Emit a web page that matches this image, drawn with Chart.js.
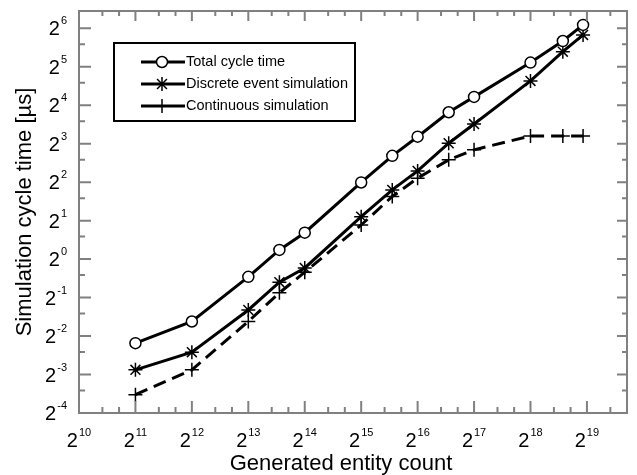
<!DOCTYPE html>
<html>
<head>
<meta charset="utf-8">
<script src="https://cdn.jsdelivr.net/npm/chart.js"></script>
<style>
  html, body { margin: 0; padding: 0; background: #fff; }
  #wrap { width: 637px; height: 475px; }
</style>
</head>
<body>
<div id="wrap"><canvas id="cycleChart" width="637" height="475"></canvas></div>
<script>
// values (x = entity count, y = cycle time in µs)
const entityCounts = [2048, 4096, 8192, 12000, 16384, 32768, 48000, 65536, 96000, 131072, 262144, 390000, 500000];
const totalCycle = [0.220, 0.325, 0.727, 1.18, 1.61, 3.98, 6.43, 9.08, 14.1, 18.6, 34.5, 50.9, 68];
const discreteEvent = [0.136, 0.187, 0.40, 0.66, 0.853, 2.15, 3.48, 4.9, 8.07, 11.4, 24.8, 42, 56.8];
const continuousSim = [0.087, 0.136, 0.325, 0.545, 0.79, 1.85, 3.09, 4.3, 5.98, 7.16, 9.2, 9.2, 9.2];

const seriesNames = ["Total cycle time", "Discrete event simulation", "Continuous simulation"];
const xExponents = [10, 11, 12, 13, 14, 15, 16, 17, 18, 19];
const yExponents = [-4, -3, -2, -1, 0, 1, 2, 3, 4, 5, 6];

const FONT = "'Liberation Sans', Arial, sans-serif";
const AXIS_GREY = "#808080";

function pts(ys) {
  return entityCounts.map((x, i) => ({ x: x, y: ys[i] }));
}

// label "2^n" drawn as base + raised exponent
function powLabel(ctx, n, x, y, align) {
  const base = "2", exp = String(n);
  ctx.font = "20px " + FONT;
  const wb = ctx.measureText(base).width;
  ctx.font = "11px " + FONT;
  const we = ctx.measureText(exp).width;
  const total = wb + we + 1;
  let left = align === "right" ? x - total : x - total / 2;
  ctx.textAlign = "left";
  ctx.textBaseline = "alphabetic";
  ctx.fillStyle = "#000";
  ctx.font = "20px " + FONT;
  ctx.fillText(base, left, y);
  ctx.font = "11px " + FONT;
  ctx.fillText(exp, left + wb + 1, y - 11);
}

function marker(ctx, style, x, y) {
  ctx.save();
  ctx.strokeStyle = "#000";
  ctx.lineWidth = 1.5;
  ctx.beginPath();
  if (style === "circle") {
    ctx.fillStyle = "#fff";
    ctx.arc(x, y, 5.5, 0, Math.PI * 2);
    ctx.fill();
    ctx.stroke();
  } else if (style === "star") {
    const r = 7, d = r * Math.SQRT1_2;
    ctx.moveTo(x, y - r); ctx.lineTo(x, y + r);
    ctx.moveTo(x - r, y); ctx.lineTo(x + r, y);
    ctx.moveTo(x - d, y - d); ctx.lineTo(x + d, y + d);
    ctx.moveTo(x - d, y + d); ctx.lineTo(x + d, y - d);
    ctx.stroke();
  } else {
    const r = 7;
    ctx.moveTo(x, y - r); ctx.lineTo(x, y + r);
    ctx.moveTo(x - r, y); ctx.lineTo(x + r, y);
    ctx.stroke();
  }
  ctx.restore();
}

const framePlugin = {
  id: "framePlugin",
  afterDraw(chart) {
    const ctx = chart.ctx;
    const a = chart.chartArea;
    const xs = chart.scales.x, ys = chart.scales.y;
    ctx.save();
    ctx.strokeStyle = AXIS_GREY;
    ctx.lineWidth = 2;
    ctx.strokeRect(a.left, a.top, a.right - a.left, a.bottom - a.top);

    ctx.beginPath();
    // x ticks, bottom and top
    xExponents.forEach(n => {
      const px = xs.getPixelForValue(Math.pow(2, n));
      ctx.moveTo(px, a.bottom); ctx.lineTo(px, a.bottom - 12);
      ctx.moveTo(px, a.top); ctx.lineTo(px, a.top + 10);
      [0.415, 0.71].forEach(f => {
        const mx = xs.getPixelForValue(Math.pow(2, n + f));
        if (mx < a.right - 1) {
          ctx.moveTo(mx, a.bottom); ctx.lineTo(mx, a.bottom - 6);
          ctx.moveTo(mx, a.top); ctx.lineTo(mx, a.top + 5);
        }
      });
    });
    // y ticks, left and right
    yExponents.forEach(n => {
      const py = ys.getPixelForValue(Math.pow(2, n));
      ctx.moveTo(a.left, py); ctx.lineTo(a.left + 12, py);
      ctx.moveTo(a.right, py); ctx.lineTo(a.right - 10, py);
      const my = ys.getPixelForValue(1.5 * Math.pow(2, n));
      if (my > a.top + 1) {
        ctx.moveTo(a.left, my); ctx.lineTo(a.left + 6, my);
        ctx.moveTo(a.right, my); ctx.lineTo(a.right - 5, my);
      }
    });
    ctx.stroke();

    // tick labels
    xExponents.forEach(n => {
      powLabel(ctx, n, xs.getPixelForValue(Math.pow(2, n)), 447, "center");
    });
    yExponents.forEach(n => {
      powLabel(ctx, n, 67, ys.getPixelForValue(Math.pow(2, n)) + 7, "right");
    });

    // axis titles
    ctx.fillStyle = "#000";
    ctx.font = "22px " + FONT;
    ctx.textAlign = "center";
    ctx.textBaseline = "alphabetic";
    ctx.fillText("Generated entity count", 341, 470);
    ctx.save();
    ctx.translate(31, 212);
    ctx.rotate(-Math.PI / 2);
    ctx.fillText("Simulation cycle time [µs]", 0, 0);
    ctx.restore();

    // legend box
    ctx.strokeStyle = "#000";
    ctx.lineWidth = 2;
    ctx.strokeRect(114, 43, 241, 78);
    const styles = ["circle", "star", "cross"];
    const rowsY = [62, 84, 106];
    ctx.font = "14.5px " + FONT;
    ctx.textAlign = "left";
    ctx.textBaseline = "middle";
    seriesNames.forEach((name, i) => {
      const y = rowsY[i];
      ctx.beginPath();
      ctx.lineWidth = 3;
      ctx.moveTo(141, y); ctx.lineTo(185, y);
      ctx.stroke();
      marker(ctx, styles[i], 162, y);
      ctx.fillStyle = "#000";
      ctx.fillText(name, 186, y);
    });
    ctx.restore();
  }
};

new Chart(document.getElementById("cycleChart"), {
  type: "line",
  data: {
    datasets: [
      {
        label: seriesNames[0],
        data: pts(totalCycle),
        borderColor: "#000",
        borderWidth: 3,
        pointStyle: "circle",
        pointRadius: 5.5,
        pointBorderWidth: 1.5,
        pointBackgroundColor: "#fff",
        pointBorderColor: "#000",
      },
      {
        label: seriesNames[1],
        data: pts(discreteEvent),
        borderColor: "#000",
        borderWidth: 3,
        pointStyle: "star",
        pointRadius: 7,
        pointBorderWidth: 1.5,
        pointBorderColor: "#000",
      },
      {
        label: seriesNames[2],
        data: pts(continuousSim),
        borderColor: "#000",
        borderWidth: 3,
        borderDash: [13, 7],
        pointStyle: "cross",
        pointRadius: 7,
        pointBorderWidth: 1.5,
        pointBorderColor: "#000",
      },
    ],
  },
  options: {
    responsive: false,
    animation: false,
    devicePixelRatio: 1,
    layout: { padding: { top: 11, right: 10, left: 0, bottom: 0 } },
    plugins: { legend: { display: false }, tooltip: { enabled: false } },
    scales: {
      x: {
        type: "logarithmic",
        min: Math.pow(2, 10),
        max: Math.pow(2, 19.71),
        ticks: { display: false },
        grid: { display: false },
        border: { display: false },
        afterFit: s => { s.height = 62; },
      },
      y: {
        type: "logarithmic",
        min: Math.pow(2, -4),
        max: Math.pow(2, 6.45),
        ticks: { display: false },
        grid: { display: false },
        border: { display: false },
        afterFit: s => { s.width = 79; },
      },
    },
  },
  plugins: [framePlugin],
});
</script>
</body>
</html>
